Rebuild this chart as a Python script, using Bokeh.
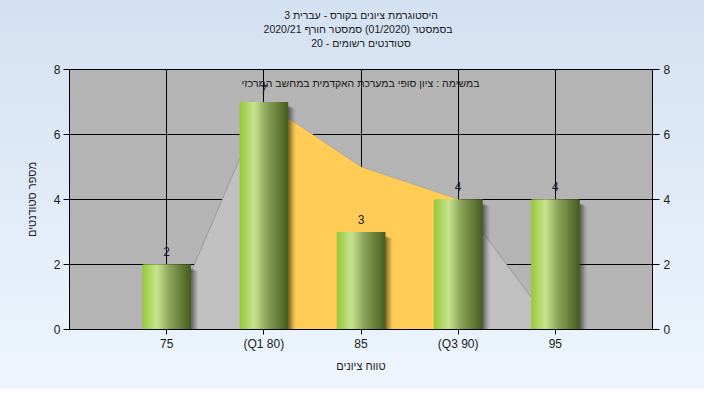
from bokeh.plotting import figure
from bokeh.models import Range1d, LinearAxis, FixedTicker, Label, ColumnDataSource, Title
from bokeh.core.properties import value
from bokeh.embed import file_html
from bokeh.resources import INLINE

# ---- data ----
categories = ["75", "(Q1 80)", "85", "(Q3 90)", "95"]
counts = [2, 7, 3, 4, 4]
curve = [0, 7, 5, 4, 0]          # grey frequency area
q1_index, q3_index = 1, 3        # orange inter-quartile area spans these categories
y_ticks = [0, 2, 4, 6, 8]

title_lines = [
    "היסטוגרמת ציונים בקורס - עברית 3",
    "בסמסטר  (01/2020)  סמסטר חורף 2020/21",
    "סטודנטים רשומים - 20",
]
subtitle = "במשימה : ציון סופי במערכת האקדמית במחשב המרכזי"
x_title = "טווח ציונים"
y_title = "מספר סטודנטים"

FONT = "Liberation Sans"
positions = list(range(1, len(categories) + 1))

p = figure(width=704, height=389,
           x_range=Range1d(0, len(categories) + 1), y_range=Range1d(0, 8),
           output_backend="svg", toolbar_location=None,
           min_border_left=69, min_border_right=52, min_border_top=69, min_border_bottom=60,
           background_fill_color="#b4b4b4", border_fill_color=None,
           outline_line_color="black", outline_line_width=1)
p.styles = {"background": "linear-gradient(#d4e1f2, #eef5fd)"}

# titles (stacked above the frame; first added is closest to the frame)
for i, t in enumerate(reversed(title_lines)):
    p.add_layout(Title(text=t, align="center", text_font=FONT, text_font_size="10.5px",
                       text_font_style="normal", text_color="#1a1a1a", standoff=0,
                       text_line_height=1.15,
                       padding=dict(left=0, right=0, top=0, bottom=21 if i == 0 else 0)),
                 "above")

# grid
p.xgrid.ticker = FixedTicker(ticks=positions)
p.ygrid.ticker = FixedTicker(ticks=y_ticks)
for g in (p.xgrid, p.ygrid):
    g.grid_line_color = "black"
    g.grid_line_width = 1
    g.grid_line_alpha = 1

# areas
p.varea(x=positions, y1=[0] * len(positions), y2=curve, fill_color="#c0c0c0")
p.line(x=positions, y=curve, line_color="#909090", line_width=0.8)
p.varea(x=positions[q1_index:q3_index + 1], y1=[0] * (q3_index - q1_index + 1),
        y2=curve[q1_index:q3_index + 1], fill_color="#ffcc55")

# bar shadows
bar_w = 0.5
for k, a in enumerate([0.16, 0.14, 0.12, 0.09, 0.06]):
    dx = 0.015 * (k + 1)
    p.vbar(x=[x + dx for x in positions], width=bar_w, bottom=0,
           top=[c - 0.12 - 0.02 * k for c in counts],
           fill_color="black", fill_alpha=a, line_color=None)

# gradient bars (overlapping slices)
stops = [(0.0, (150, 200, 55)), (0.3, (200, 228, 145)), (0.55, (140, 165, 90)), (1.0, (70, 92, 30))]
def grad(t):
    for (t0, c0), (t1, c1) in zip(stops[:-1], stops[1:]):
        if t0 <= t <= t1:
            f = (t - t0) / (t1 - t0)
            return "#%02x%02x%02x" % tuple(int(round(a + (b - a) * f)) for a, b in zip(c0, c1))
    return "#%02x%02x%02x" % stops[-1][1]

nsl = 30
sw = bar_w / nsl
L, R, T, C = [], [], [], []
for pos, c in zip(positions, counts):
    left = pos - bar_w / 2
    for j in range(nsl):
        L.append(left + j * sw)
        R.append(min(left + (j + 2) * sw, left + bar_w))
        T.append(c)
        C.append(grad((j + 0.5) / nsl))
src = ColumnDataSource(dict(left=L, right=R, top=T, color=C))
p.quad(left="left", right="right", top="top", bottom=0, fill_color="color", line_color=None, source=src)

# value labels
p.text(x=positions, y=counts, text=[str(c) for c in counts], text_align="center",
       text_baseline="alphabetic", y_offset=-13, text_font=value(FONT),
       text_font_size="12px", text_color="#1a1a3a")

# axes
def style_axis(ax):
    ax.axis_line_color = "black"
    ax.major_tick_line_color = "black"
    ax.major_tick_out = 6
    ax.major_tick_in = 0
    ax.minor_tick_out = 0
    ax.minor_tick_in = 0
    ax.major_label_text_font = FONT
    ax.major_label_text_font_size = "12px"
    ax.major_label_text_color = "#1a1a1a"
    ax.major_label_standoff = 3
    ax.axis_label_text_font = FONT
    ax.axis_label_text_font_size = "11px"
    ax.axis_label_text_font_style = "normal"
    ax.axis_label_text_color = "#1a1a1a"

p.yaxis.ticker = FixedTicker(ticks=y_ticks)
p.yaxis.axis_label = y_title
p.yaxis.axis_label_standoff = 13
style_axis(p.yaxis[0])

p.xaxis.ticker = FixedTicker(ticks=positions)
p.xaxis.major_label_overrides = {pos: lab for pos, lab in zip(positions, categories)}
p.xaxis.axis_label = x_title
style_axis(p.xaxis[0])
p.xaxis.major_tick_out = 5
p.xaxis.major_label_standoff = 2
p.xaxis.axis_label_standoff = 6

ra = LinearAxis(ticker=FixedTicker(ticks=y_ticks))
style_axis(ra)
ra.major_tick_out = 7
ra.major_label_standoff = 4
p.add_layout(ra, "right")

p.add_layout(Label(x=291, y=247, x_units="screen", y_units="screen", text=subtitle,
                   text_align="center", text_baseline="middle", text_font=FONT,
                   text_font_size="10.5px", text_color="#1a1a1a"))

open("out.html", "w").write(file_html(p, INLINE))
